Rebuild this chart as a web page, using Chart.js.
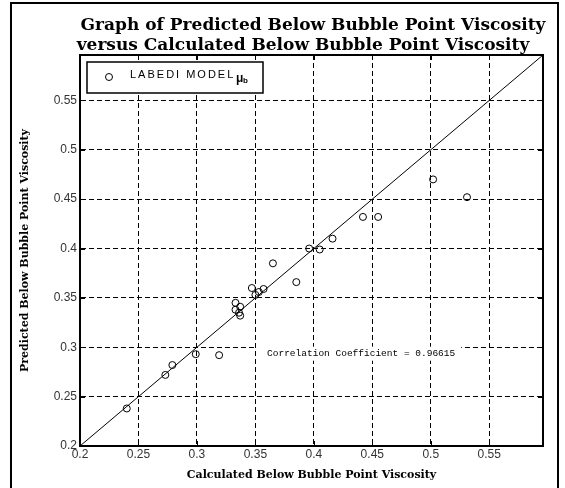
<!DOCTYPE html>
<html>
<head>
<meta charset="utf-8">
<script src="https://cdn.jsdelivr.net/npm/chart.js@4"></script>
<style>
  body { margin: 0; background: #fff; }
  #wrap { position: relative; width: 565px; height: 488px; overflow: hidden; }
  #frame { position: absolute; left: 10px; top: 2px; width: 549px; height: 500px;
           border: 2px solid #000; box-sizing: border-box; pointer-events: none; }
</style>
</head>
<body>
<div id="wrap">
  <canvas id="chart" width="565" height="488"></canvas>
  <div id="frame"></div>
</div>
<script>
const titleLines = ["Graph of Predicted Below Bubble Point Viscosity",
                    "versus Calculated Below Bubble Point Viscosity"];
const xLabel = "Calculated Below Bubble Point Viscosity";
const yLabel = "Predicted Below Bubble Point Viscosity";
const seriesName = "LABEDI MODEL";
const noteText = "Correlation Coefficient = 0.96615";

const xTicks = [0.2, 0.25, 0.3, 0.35, 0.4, 0.45, 0.5, 0.55];
const yTicks = [0.2, 0.25, 0.3, 0.35, 0.4, 0.45, 0.5, 0.55];
const axisMax = 0.596;

// calculated (x) vs predicted (y)
const calculated = [0.240, 0.273, 0.279, 0.299, 0.319, 0.333, 0.337, 0.333, 0.337, 0.336,
                    0.347, 0.350, 0.353, 0.357, 0.365, 0.385, 0.396, 0.405, 0.416, 0.442,
                    0.455, 0.502, 0.531];
const predicted  = [0.238, 0.272, 0.282, 0.293, 0.292, 0.345, 0.341, 0.338, 0.332, 0.335,
                    0.360, 0.353, 0.356, 0.359, 0.385, 0.366, 0.400, 0.399, 0.410, 0.432,
                    0.432, 0.470, 0.452];
const unitLine = [0.2, axisMax];
const notePos = [0.36, 0.2935];

let black = "#000";

const decorations = {
    id: "decorations",
    beforeDraw(chart) {
        const {ctx, chartArea: a} = chart;
        ctx.save();
        ctx.fillStyle = black;
        ctx.textAlign = "center";
        ctx.font = 'bold 17px "DejaVu Serif"';
        ctx.fillText(titleLines[0], 313, 30);
        ctx.fillText(titleLines[1], 303, 50);
        ctx.fillStyle = "#fff";
        ctx.fillRect(a.left, a.top, a.right - a.left, a.bottom - a.top);
        ctx.restore();
    },
    beforeDatasetsDraw(chart) {
        // white box behind the correlation note hides the grid there
        const {ctx, scales: {x, y}} = chart;
        ctx.save();
        ctx.font = '9.5px "Liberation Mono"';
        const nx = x.getPixelForValue(notePos[0]);
        const ny = y.getPixelForValue(notePos[1]);
        const w = ctx.measureText(noteText).width;
        ctx.fillStyle = "#fff";
        ctx.fillRect(nx - 10, ny - 7, w + 16, 14);
        ctx.restore();
    },
    afterDraw(chart) {
        const {ctx, chartArea: a, scales: {x, y}} = chart;
        ctx.save();
        ctx.strokeStyle = black;
        // inward tick marks
        ctx.lineWidth = 1;
        ctx.beginPath();
        xTicks.forEach(v => {
            const px = Math.round(x.getPixelForValue(v)) + 0.5;
            ctx.moveTo(px, a.bottom); ctx.lineTo(px, a.bottom - 5);
            ctx.moveTo(px, a.top); ctx.lineTo(px, a.top + 5);
        });
        yTicks.forEach(v => {
            const py = Math.round(y.getPixelForValue(v)) + 0.5;
            ctx.moveTo(a.left, py); ctx.lineTo(a.left + 5, py);
            ctx.moveTo(a.right, py); ctx.lineTo(a.right - 5, py);
        });
        ctx.stroke();
        // axes box
        ctx.lineWidth = 2;
        ctx.strokeRect(a.left, a.top, a.right - a.left, a.bottom - a.top);

        // legend
        ctx.fillStyle = "#fff";
        ctx.fillRect(87, 62, 176, 31);
        ctx.lineWidth = 1.5;
        ctx.strokeRect(87, 62, 176, 31);
        ctx.lineWidth = 1;
        ctx.beginPath();
        ctx.arc(109, 77, 3.5, 0, Math.PI * 2);
        ctx.stroke();
        ctx.fillStyle = black;
        ctx.textAlign = "left";
        ctx.textBaseline = "middle";
        ctx.font = '11px "Liberation Sans"';
        ctx.letterSpacing = "2px";
        ctx.fillText(chart.data.datasets[0].label, 130, 75);
        ctx.letterSpacing = "0px";
        ctx.font = 'bold 12px "Liberation Sans"';
        ctx.fillText("\u03bc", 236, 79);
        ctx.font = 'bold 8px "Liberation Sans"';
        ctx.fillText("b", 243, 81);

        // correlation note
        ctx.font = '9.5px "Liberation Mono"';
        ctx.fillText(noteText, x.getPixelForValue(notePos[0]), y.getPixelForValue(notePos[1]));
        ctx.restore();
    }
};

new Chart(document.getElementById("chart"), {
    type: "scatter",
    data: {
        datasets: [
            {
                label: seriesName,
                data: calculated.map((v, i) => ({x: v, y: predicted[i]})),
                pointStyle: "circle",
                pointRadius: 3.5,
                pointBorderWidth: 1,
                borderColor: black,
                backgroundColor: "rgba(0,0,0,0)",
                order: 1
            },
            {
                label: "unit",
                type: "line",
                data: unitLine.map(v => ({x: v, y: v})),
                borderColor: black,
                borderWidth: 1,
                pointRadius: 0,
                fill: false,
                order: 2
            }
        ]
    },
    options: {
        responsive: false,
        animation: false,
        devicePixelRatio: 1,
        layout: { padding: { top: 55, right: 22, left: 0, bottom: 0 } },
        plugins: {
            legend: { display: false },
            tooltip: { enabled: false }
        },
        scales: {
            x: {
                type: "linear",
                min: 0.2,
                max: axisMax,
                afterBuildTicks: s => { s.ticks = xTicks.map(v => ({value: v})); },
                afterFit: s => { s.height = 42; },
                grid: { color: black, lineWidth: 1, drawTicks: false },
                border: { display: true, color: black, width: 2, dash: [5, 3] },
                ticks: {
                    padding: 1,
                    color: "#333",
                    font: { family: "Liberation Sans", size: 12 },
                    maxRotation: 0,
                    callback: v => String(v)
                },
                title: {
                    display: true,
                    text: xLabel,
                    color: black,
                    font: { family: "DejaVu Serif", size: 11, weight: "bold" },
                    padding: { top: 0, bottom: 6 }
                }
            },
            y: {
                type: "linear",
                min: 0.2,
                max: axisMax,
                afterBuildTicks: s => { s.ticks = yTicks.map(v => ({value: v})); },
                afterFit: s => { s.width = 80; },
                grid: { color: black, lineWidth: 1, drawTicks: false },
                border: { display: true, color: black, width: 2, dash: [5, 3] },
                ticks: {
                    padding: 3,
                    color: "#333",
                    font: { family: "Liberation Sans", size: 12 },
                    callback: v => String(v)
                },
                title: {
                    display: true,
                    text: yLabel,
                    color: black,
                    font: { family: "DejaVu Serif", size: 11, weight: "bold" },
                    padding: { top: 19, bottom: 0 }
                }
            }
        }
    },
    plugins: [decorations]
});
</script>
</body>
</html>
